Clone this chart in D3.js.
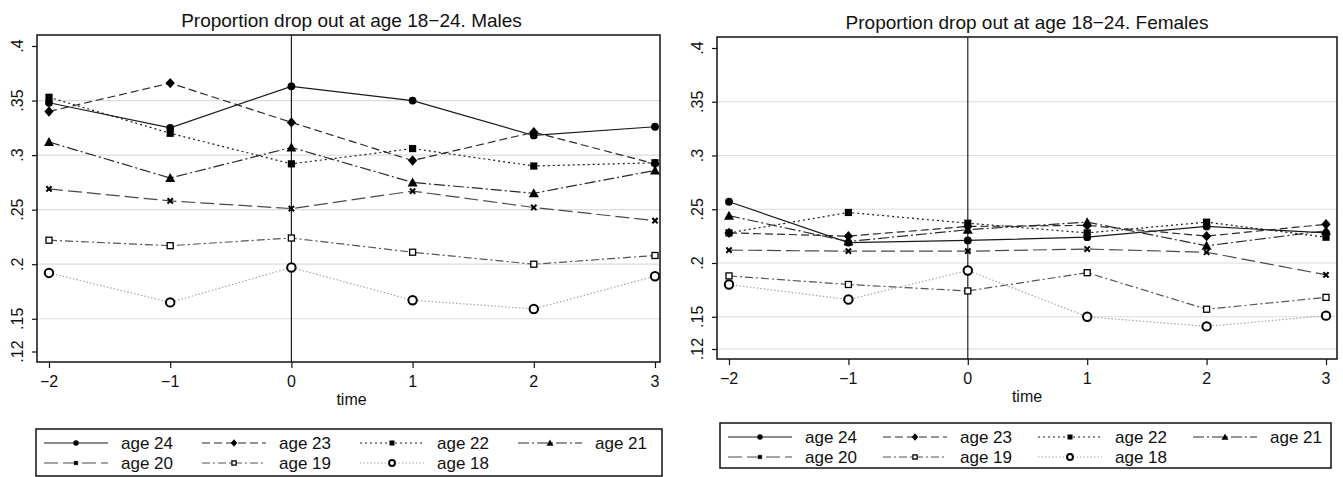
<!DOCTYPE html>
<html><head><meta charset="utf-8">
<script src="https://cdn.jsdelivr.net/npm/d3@7"></script>
<style>body{margin:0;background:#fff;} svg{display:block;} text{font-family:"Liberation Sans",Arial,sans-serif;fill:#111;}</style>
</head><body>
<svg id="c" width="1343" height="477"></svg>
<script>
const times = [-2, -1, 0, 1, 2, 3];
const yTicks = [0.12, 0.15, 0.2, 0.25, 0.3, 0.35, 0.4];
const yTickLabels = [".12", ".15", ".2", ".25", ".3", ".35", ".4"];
const xTickLabels = ["\u22122", "\u22121", "0", "1", "2", "3"];
const seriesNames = ["age 24", "age 23", "age 22", "age 21", "age 20", "age 19", "age 18"];
const titles = ["Proportion drop out at age 18\u221224. Males", "Proportion drop out at age 18\u221224. Females"];

const males24 = [0.348, 0.325, 0.363, 0.350, 0.318, 0.326];
const males23 = [0.340, 0.366, 0.330, 0.295, 0.321, 0.292];
const males22 = [0.353, 0.320, 0.292, 0.306, 0.290, 0.293];
const males21 = [0.312, 0.279, 0.307, 0.275, 0.265, 0.286];
const males20 = [0.269, 0.258, 0.251, 0.267, 0.252, 0.240];
const males19 = [0.222, 0.217, 0.224, 0.211, 0.200, 0.208];
const males18 = [0.192, 0.165, 0.197, 0.167, 0.159, 0.189];

const females24 = [0.257, 0.219, 0.221, 0.224, 0.234, 0.228];
const females23 = [0.228, 0.225, 0.234, 0.235, 0.225, 0.236];
const females22 = [0.228, 0.247, 0.237, 0.228, 0.238, 0.224];
const females21 = [0.244, 0.220, 0.231, 0.238, 0.216, 0.230];
const females20 = [0.212, 0.211, 0.211, 0.213, 0.210, 0.189];
const females19 = [0.188, 0.180, 0.174, 0.191, 0.157, 0.168];
const females18 = [0.180, 0.166, 0.193, 0.150, 0.141, 0.151];

const males = [males24, males23, males22, males21, males20, males19, males18];
const females = [females24, females23, females22, females21, females20, females19, females18];

const styles = [
  {color:"#1a1a1a", dash:null, marker:"circle"},
  {color:"#2a2a2a", dash:"8,4", marker:"diamond"},
  {color:"#1a1a1a", dash:"2,3", marker:"square"},
  {color:"#2a2a2a", dash:"11,3,2,3", marker:"triangle"},
  {color:"#4a4a4a", dash:"14,5", marker:"x"},
  {color:"#555", dash:"8,3,2,3", marker:"hsquare"},
  {color:"#a8a8a8", dash:"1.5,2", marker:"hcircle"}
];

const svg = d3.select("#c");

function drawMarker(g, type, x, y, scale) {
  const s = scale || 1;
  if (type === "circle") g.append("circle").attr("cx", x).attr("cy", y).attr("r", 3.9*s).attr("fill", "#000");
  else if (type === "diamond") g.append("path").attr("d", `M${x},${y-5.2*s}L${x+4.6*s},${y}L${x},${y+5.2*s}L${x-4.6*s},${y}Z`).attr("fill", "#000");
  else if (type === "square") g.append("rect").attr("x", x-3.6*s).attr("y", y-3.6*s).attr("width", 7.2*s).attr("height", 7.2*s).attr("fill", "#000");
  else if (type === "triangle") g.append("path").attr("d", `M${x},${y-5*s}L${x+5*s},${y+4*s}L${x-5*s},${y+4*s}Z`).attr("fill", "#000");
  else if (type === "x") g.append("path").attr("d", d3.symbol(d3.symbolX, 20*s*s)()).attr("transform", `translate(${x},${y})`).attr("fill", "none").attr("stroke", "#000").attr("stroke-width", 2);
  else if (type === "hsquare") g.append("rect").attr("x", x-3*s).attr("y", y-3*s).attr("width", 6*s).attr("height", 6*s).attr("fill", "#fff").attr("stroke", "#000").attr("stroke-width", 1.3);
  else if (type === "hcircle") g.append("circle").attr("cx", x).attr("cy", y).attr("r", 4.2*s).attr("fill", "#fff").attr("stroke", "#000").attr("stroke-width", 2);
}

function panel(cfg) {
  const g = svg.append("g");
  const x = d3.scaleLinear().domain([-2, 3]).range([cfg.x0, cfg.x3]);
  const y = d3.scaleLinear().domain([0.12, 0.4]).range([cfg.y012, cfg.y04]);
  const L = cfg.left, R = cfg.right, T = cfg.top, B = cfg.bottom;

  g.append("g").selectAll("line").data(cfg.grid).join("line")
    .attr("x1", L).attr("x2", R).attr("y1", d => y(d)).attr("y2", d => y(d))
    .attr("stroke", "#dcdcdc").attr("stroke-width", 1.2);

  g.append("line").attr("x1", x(0)).attr("x2", x(0)).attr("y1", T).attr("y2", B).attr("stroke", "#222").attr("stroke-width", 1.2);

  const line = d3.line().x((d, i) => x(times[i])).y(d => y(d));
  cfg.data.forEach((vals, k) => {
    const st = styles[k];
    g.append("path").attr("d", line(vals)).attr("fill", "none")
      .attr("stroke", st.color).attr("stroke-width", 1.2)
      .attr("stroke-dasharray", st.dash);
  });
  cfg.data.forEach((vals, k) => {
    vals.forEach((v, i) => drawMarker(g, styles[k].marker, x(times[i]), y(v)));
  });

  g.append("rect").attr("x", L).attr("y", T).attr("width", R - L).attr("height", B - T)
    .attr("fill", "none").attr("stroke", "#111").attr("stroke-width", 1.5);

  const ya = d3.axisLeft(y).tickValues(yTicks).tickFormat(() => "").tickSize(5).tickSizeOuter(0);
  const yg = g.append("g").attr("transform", `translate(${L},0)`).call(ya);
  yg.select(".domain").remove();
  yg.selectAll(".tick line").attr("stroke", "#111").attr("stroke-width", 1.2);
  g.append("g").selectAll("text").data(yTicks).join("text")
    .attr("transform", d => `translate(${L - 14},${y(d)}) rotate(-90)`)
    .attr("text-anchor", "middle").attr("font-size", 16)
    .text((d, i) => yTickLabels[i]);

  const xa = d3.axisBottom(x).tickValues(times).tickFormat(() => "").tickSize(6).tickSizeOuter(0);
  const xg = g.append("g").attr("transform", `translate(0,${B})`).call(xa);
  xg.select(".domain").remove();
  xg.selectAll(".tick line").attr("stroke", "#111").attr("stroke-width", 1.2);
  g.append("g").selectAll("text").data(times).join("text")
    .attr("x", d => x(d)).attr("y", B + 25).attr("text-anchor", "middle").attr("font-size", 16)
    .text((d, i) => xTickLabels[i]);
  g.append("text").attr("x", (L + R) / 2 + cfg.titleShift).attr("y", B + 43).attr("text-anchor", "middle").attr("font-size", 16).text("time");

  g.append("text").attr("x", (L + R) / 2 + cfg.titleShift).attr("y", T - 8).attr("text-anchor", "middle").attr("font-size", 19).text(cfg.title);

  const lg = g.append("g");
  lg.append("rect").attr("x", cfg.lgL).attr("y", cfg.lgT).attr("width", cfg.lgR - cfg.lgL).attr("height", cfg.lgB - cfg.lgT)
    .attr("fill", "#fff").attr("stroke", "#111").attr("stroke-width", 1.5);
  seriesNames.forEach((name, k) => {
    const col = k % 4, row = Math.floor(k / 4);
    const sx = cfg.lgL + 8 + col * cfg.colW;
    const sy = cfg.lgT + 14 + row * 20;
    const st = styles[k];
    lg.append("line").attr("x1", sx).attr("x2", sx + 64).attr("y1", sy).attr("y2", sy)
      .attr("stroke", st.color).attr("stroke-width", 1.2).attr("stroke-dasharray", st.dash);
    drawMarker(lg, st.marker, sx + 32, sy, 0.7);
    lg.append("text").attr("x", sx + 77).attr("y", sy + 6).attr("font-size", 17).text(name);
  });
}

panel({left:37, right:660, top:35, bottom:362, x0:49, x3:655, y012:351.5, y04:46,
  grid:[0.15,0.2,0.25,0.3,0.35], data:males, title:titles[0], titleShift:3,
  lgL:36, lgR:662, lgT:429, lgB:476, colW:158});
panel({left:717, right:1337, top:37, bottom:359, x0:729, x3:1326, y012:349, y04:48,
  grid:[0.12,0.15,0.2,0.25,0.3,0.35], data:females, title:titles[1], titleShift:0,
  lgL:720, lgR:1331, lgT:423, lgB:468, colW:155});
</script>
</body></html>
